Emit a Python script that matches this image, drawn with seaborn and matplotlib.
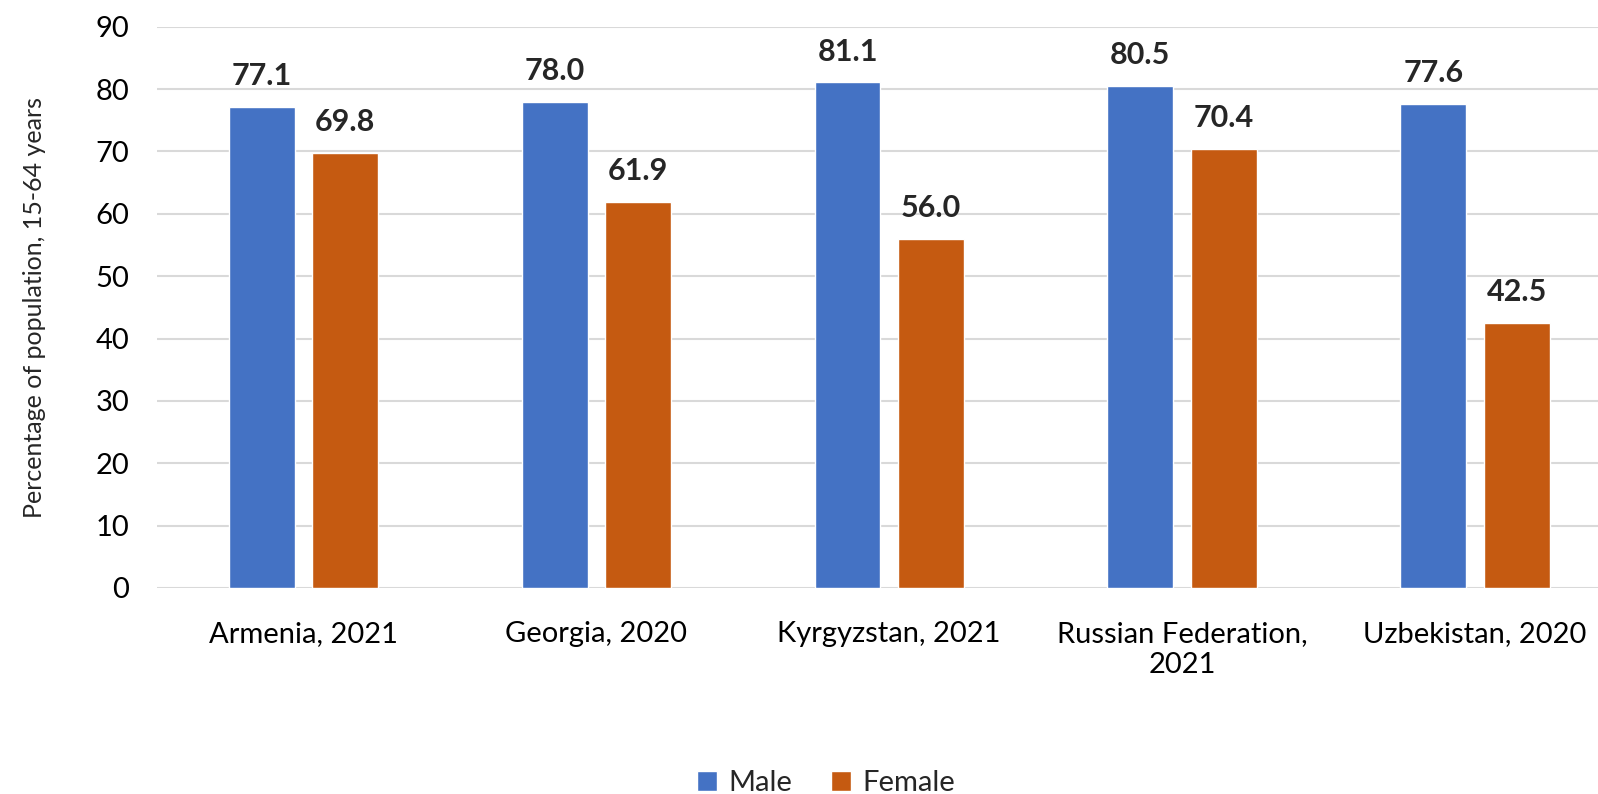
import matplotlib
matplotlib.use("Agg")
import matplotlib.pyplot as plt
import seaborn as sns
import pandas as pd

categories = ["Armenia, 2021", "Georgia, 2020", "Kyrgyzstan, 2021",
              "Russian Federation,\n2021", "Uzbekistan, 2020"]
male = [77.1, 78.0, 81.1, 80.5, 77.6]
female = [69.8, 61.9, 56.0, 70.4, 42.5]
series = ["Male", "Female"]
colors = ["#4472C4", "#C55A11"]
yticks = [0, 10, 20, 30, 40, 50, 60, 70, 80, 90]

sns.set_theme(style="white")
plt.rcParams["font.family"] = ["Lato", "DejaVu Sans"]

df = pd.DataFrame({
    "country": categories * 2,
    "value": male + female,
    "sex": [series[0]] * len(categories) + [series[1]] * len(categories),
})

W, H = 1598, 794
fig = plt.figure(figsize=(W / 100, H / 100), dpi=100)
ax = fig.add_axes([157 / W, 1 - 588 / H, (W - 157) / W, (588 - 26.7) / H])

sns.barplot(data=df, x="country", y="value", hue="sex", order=categories,
            hue_order=series, palette=colors, width=0.57, gap=0.21,
            saturation=1, ax=ax, legend=True)

ax.set_ylim(0, 90)
ax.set_xlim(-0.5, (W - 303) / 293.0)
ax.set_yticks(yticks)
ax.yaxis.grid(True, color="#D9D9D9", linewidth=1.5)
ax.set_axisbelow(True)
for s in ax.spines.values():
    s.set_visible(False)
ax.tick_params(axis="both", length=0, labelsize=21, colors="black")
ax.tick_params(axis="x", pad=24)
ax.tick_params(axis="y", pad=20)
ax.set_xlabel("")
ax.set_ylabel("Percentage of population, 15-64 years", fontsize=18)
ax.yaxis.set_label_coords(-0.077, 0.5)

for cont in ax.containers:
    ax.bar_label(cont, fmt="%.1f", padding=12, fontsize=22, fontweight="bold")

handles, labels = ax.get_legend_handles_labels()
ax.legend(handles, labels, loc="center", bbox_to_anchor=(826 / W, 1 - 783 / H),
          bbox_transform=fig.transFigure, ncol=2, frameon=False, fontsize=21,
          handlelength=0.7, handleheight=0.7, handletextpad=0.4,
          columnspacing=1.3)

fig.savefig("out.png", dpi=100)
